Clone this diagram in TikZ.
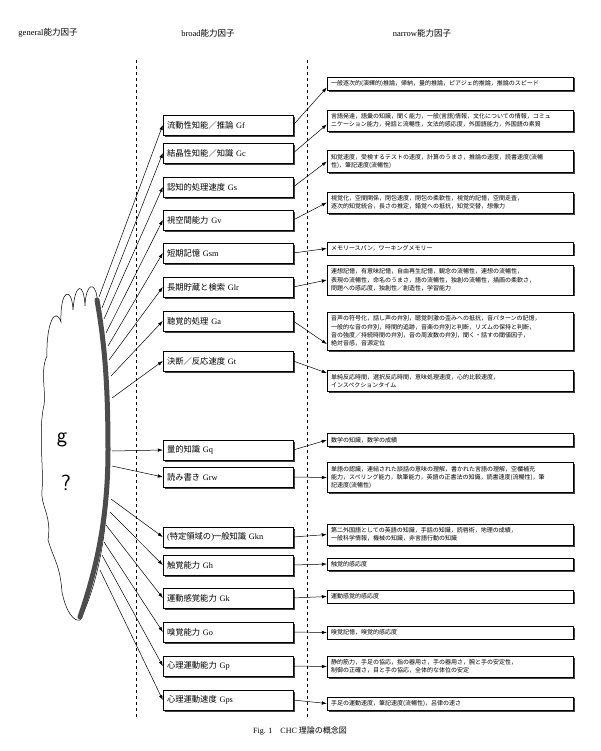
\documentclass[tikz,border=0pt]{standalone}
\usepackage{fontspec}
\setmainfont{Liberation Serif}
\newfontfamily\jp{Noto Sans CJK JP}
\usetikzlibrary{shadows,arrows.meta}
\tikzset{
  bbox/.style={draw,fill=white,text width=122pt,minimum height=20pt,inner xsep=4pt,align=left,
    font=\fontsize{8.3}{9}\selectfont,drop shadow={shadow xshift=1.6pt,shadow yshift=-1.6pt,fill=black!75,opacity=1}},
  nbox/.style={draw,fill=white,text width=238pt,inner xsep=4pt,inner ysep=3.5pt,align=left,
    font=\jp\fontsize{6}{8.4}\selectfont,drop shadow={shadow xshift=1.6pt,shadow yshift=-1.6pt,fill=black!75,opacity=1}},
  tip/.style={-{Latex[length=5pt,width=3.5pt]},line width=.5pt}
}
\begin{document}
\begin{tikzpicture}[x=1pt,y=-1pt]
	\useasboundingbox (0,0) rectangle (600,751);
	% headers
	\node (hg) at (48,33) {\fontsize{8.5}{9}\selectfont general{\jp 能力因子}};
	\node (hb) at (208,33) {\fontsize{8.5}{9}\selectfont broad{\jp 能力因子}};
	\node (hn) at (422,33) {\fontsize{8.5}{9}\selectfont narrow{\jp 能力因子}};
	\draw[dashed,line width=.4pt] (136,60) -- (136,717);
	\draw[dashed,line width=.4pt] (307,60) -- (307,717);
	% cloud
	\draw[fill=white,line width=.5pt] (97,297) .. controls (95,282) and (86,282) .. (85,306)
		.. controls (84,282) and (75,282) .. (73,310)
		.. controls (72,286) and (60,288) .. (61,322)
		.. controls (55,305) and (46,325) .. (47,356)
		.. controls (40,370) and (46,390) .. (44,405)
		.. controls (38,430) and (44,470) .. (42,490)
		.. controls (40,505) and (52,515) .. (48,540)
		.. controls (54,560) and (60,565) .. (62,592)
		.. controls (66,612) and (74,622) .. (80,620)
		.. controls (95,590) and (108,540) .. (108,470)
		.. controls (108,400) and (104,330) .. (97,297);
	\draw[black!70,line width=5pt,line cap=round] (97,300) .. controls (104,340) and (108,380) .. (108,450)
		.. controls (108,520) and (96,570) .. (80,617);
	\node[font=\fontsize{22}{22}\selectfont\sffamily] (g) at (62,440) {g};
	\node[font=\fontsize{22}{22}\selectfont\sffamily] (q) at (66,483) {?};
	\coordinate (cGf) at (99,297);
	\coordinate (cGc) at (102,308);
	\coordinate (cGs) at (104,319);
	\coordinate (cGv) at (106,333);
	\coordinate (cGsm) at (108,346);
	\coordinate (cGlr) at (109,360);
	\coordinate (cGa) at (111,376);
	\coordinate (cGt) at (112,398);
	\coordinate (cGq) at (112,451);
	\coordinate (cGrw) at (112,466);
	\coordinate (cGkn) at (111,499);
	\coordinate (cGh) at (110,512);
	\coordinate (cGk) at (106,525);
	\coordinate (cGo) at (104,542);
	\coordinate (cGp) at (102,555);
	\coordinate (cGps) at (100,570);
	% broad
	\node[bbox] (Gf) at (228,125) {{\jp 流動性知能／推論}\ Gf};
	\node[bbox] (Gc) at (228,153) {{\jp 結晶性知能／知識}\ Gc};
	\node[bbox] (Gs) at (228,187) {{\jp 認知的処理速度}\ Gs};
	\node[bbox] (Gv) at (228,220) {{\jp 視空間能力}\ Gv};
	\node[bbox] (Gsm) at (228,253) {{\jp 短期記憶}\ Gsm};
	\node[bbox] (Glr) at (228,287) {{\jp 長期貯蔵と検索}\ Glr};
	\node[bbox] (Ga) at (228,321) {{\jp 聴覚的処理}\ Ga};
	\node[bbox] (Gt) at (228,361) {{\jp 決断／反応速度}\ Gt};
	\node[bbox] (Gq) at (228,450) {{\jp 量的知識}\ Gq};
	\node[bbox] (Grw) at (228,477) {{\jp 読み書き}\ Grw};
	\node[bbox] (Gkn) at (228,537) {({\jp 特定領域の})\hspace{-1pt}{\jp 一般知識}\ Gkn};
	\node[bbox] (Gh) at (228,565) {{\jp 触覚能力}\ Gh};
	\node[bbox] (Gk) at (228,598) {{\jp 運動感覚能力}\ Gk};
	\node[bbox] (Go) at (228,632) {{\jp 嗅覚能力}\ Go};
	\node[bbox] (Gp) at (228,666) {{\jp 心理運動能力}\ Gp};
	\node[bbox] (Gps) at (228,700) {{\jp 心理運動速度}\ Gps};
	% narrow
	\node[nbox] (nGf) at (450,83.5) {一般逐次的(演繹的)推論，帰納，量的推論，ピアジェ的推論，推論のスピード};
	\node[nbox] (nGc) at (450,120.5) {言語発達，語彙の知識，聞く能力，一般(言語)情報，文化についての情報，コミュ\\ニケーション能力，発話と流暢性，文法的感応度，外国語能力，外国語の素質};
	\node[nbox] (nGs) at (450,161.5) {知覚速度，受検するテストの速度，計算のうまさ，推論の速度，読書速度(流暢\\性)，筆記速度(流暢性)};
	\node[nbox] (nGv) at (450,202.5) {視覚化，空間関係，閉包速度，閉包の柔軟性，視覚的記憶，空間走査，\\逐次的知覚統合，長さの推定，錯覚への抵抗，知覚交替，想像力};
	\node[nbox] (nGsm) at (450,248.5) {メモリースパン，ワーキングメモリー};
	\node[nbox] (nGlr) at (450,280) {連想記憶，有意味記憶，自由再生記憶，観念の流暢性，連想の流暢性，\\表現の流暢性，命名のうまさ，語の流暢性，独創の流暢性，描画の柔軟さ，\\問題への感応度，独創性／創造性，学習能力};
	\node[nbox] (nGa) at (450,331) {音声の符号化，話し声の弁別，聴覚刺激の歪みへの抵抗，音パターンの記憶，\\一般的な音の弁別，時間的追跡，音楽の弁別と判断，リズムの保持と判断，\\音の強度／持続時間の弁別，音の周波数の弁別，聞く・話すの閾値因子，\\絶対音感，音源定位};
	\node[nbox] (nGt) at (450,381) {単純反応時間，選択反応時間，意味処理速度，心的比較速度，\\インスペクションタイム};
	\node[nbox] (nGq) at (450,440) {数学の知識，数学の成績};
	\node[nbox] (nGrw) at (450,477.5) {単語の認識，連結された談話の意味の理解，書かれた言語の理解，空欄補充\\能力，スペリング能力，執筆能力，英語の正書法の知識，読書速度(流暢性)，筆\\記速度(流暢性)};
	\node[nbox] (nGkn) at (450,534.5) {第二外国語としての英語の知識，手話の知識，読唇術，地理の成績，\\一般科学情報，機械の知識，非言語行動の知識};
	\node[nbox] (nGh) at (450,564) {触覚的感応度};
	\node[nbox] (nGk) at (450,596.5) {運動感覚的感応度};
	\node[nbox] (nGo) at (450,632.5) {嗅覚記憶，嗅覚的感応度};
	\node[nbox] (nGp) at (450,666.5) {静的筋力，手足の協応，指の器用さ，手の器用さ，腕と手の安定性，\\制御の正確さ，目と手の協応，全体的な体位の安定};
	\node[nbox] (nGps) at (450,703.5) {手足の運動速度，筆記速度(流暢性)，呂律の速さ};
	% general -> broad
	\draw[tip] (cGf) -- (Gf.west);
	\draw[tip] (cGc) -- (Gc.west);
	\draw[tip] (cGs) -- (Gs.west);
	\draw[tip] (cGv) -- (Gv.west);
	\draw[tip] (cGsm) -- (Gsm.west);
	\draw[tip] (cGlr) -- (Glr.west);
	\draw[tip] (cGa) -- (Ga.west);
	\draw[tip] (cGt) -- (Gt.west);
	\draw[tip] (cGq) -- (Gq.west);
	\draw[tip] (cGrw) -- (Grw.west);
	\draw[tip] (cGkn) -- (Gkn.west);
	\draw[tip] (cGh) -- (Gh.west);
	\draw[tip] (cGk) -- (Gk.west);
	\draw[tip] (cGo) -- (Go.west);
	\draw[tip] (cGp) -- (Gp.west);
	\draw[tip] (cGps) -- (Gps.west);
	% broad -> narrow
	\draw[tip] (Gf.east) -- ([yshift=-4pt]nGf.west);
	\draw[tip] (Gc.east) -- ([yshift=-4pt]nGc.west);
	\draw[tip] (Gs.east) -- (nGs.west);
	\draw[tip] (Gv.east) -- (nGv.west);
	\draw[tip] (Gsm.east) -- (nGsm.west);
	\draw[tip] (Glr.east) -- (nGlr.west);
	\draw[tip] (Ga.east) -- ([yshift=-13pt]nGa.west);
	\draw[tip] (Gt.east) -- ([yshift=8pt]nGt.west);
	\draw[tip] (Gq.east) -- (nGq.west);
	\draw[tip] (Grw.east) -- (nGrw.west);
	\draw[tip] (Gkn.east) -- (nGkn.west);
	\draw[tip] (Gh.east) -- (nGh.west);
	\draw[tip] (Gk.east) -- (nGk.west);
	\draw[tip] (Go.east) -- (nGo.west);
	\draw[tip] (Gp.east) -- (nGp.west);
	\draw[tip] (Gps.east) -- (nGps.west);
	\node (cap) at (300,731) {\fontsize{8}{9}\selectfont Fig. 1\quad CHC {\jp 理論の概念図}};
\end{tikzpicture}
\end{document}
